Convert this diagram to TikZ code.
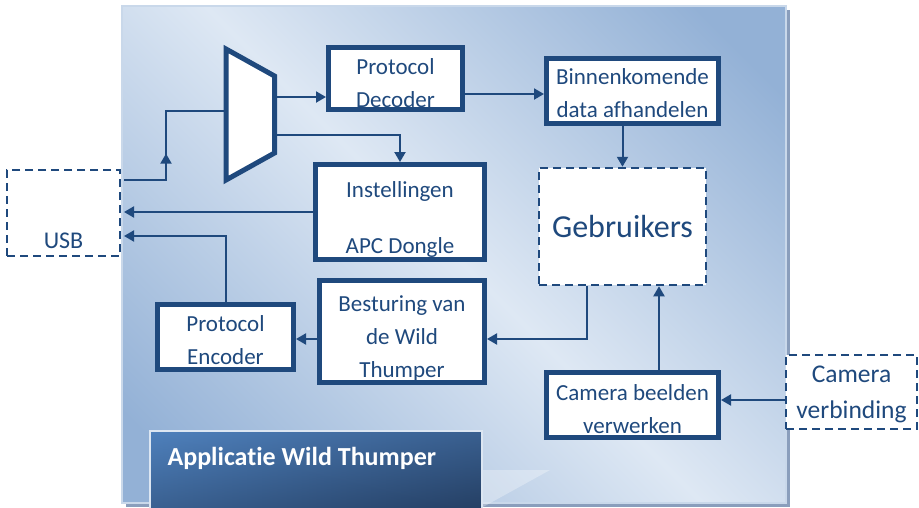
\documentclass[tikz,border=0pt]{standalone}
\usepackage{fontspec}
\setmainfont{Carlito}[Ligatures=NoCommon]
\usepackage{tikz}
\usetikzlibrary{arrows.meta}
\usetikzlibrary{decorations.markings}
\definecolor{navy}{RGB}{31,73,125}
\definecolor{panellight}{RGB}{222,232,244}
\definecolor{paneldark}{RGB}{147,177,214}
\definecolor{panelshadow}{RGB}{138,158,188}
\definecolor{titlelight}{RGB}{79,129,189}
\definecolor{titledark}{RGB}{36,62,98}
\pgfdeclareverticalshading{panelfade}{100bp}{color(0bp)=(paneldark); color(20bp)=(paneldark); color(50bp)=(panellight); color(80bp)=(paneldark); color(100bp)=(paneldark)}
\newcommand{\lift}[1]{\rule{0pt}{#1}}

\begin{document}
\begin{tikzpicture}[x=1pt, y=-1pt,
				block/.style={draw=navy, line width=5pt, fill=white, text=navy, inner sep=2pt, font=\fontsize{23}{33}\selectfont},
				dashblock/.style={draw=navy, line width=2.5pt, dash pattern=on 8pt off 5pt, fill=white, text=navy, inner sep=2pt},
				wire/.style={draw=navy, line width=2pt},
				flow/.style={wire, -{Triangle[length=10pt, width=11pt]}},
				every text node part/.style={align=center}]

				\useasboundingbox (0,0) rectangle (919,507);
				\fill[panelshadow] (126,10) rectangle (790,507);
				\shade[shading=panelfade, shading angle=-45, draw=paneldark!50!white, line width=1.5pt] (122,6) rectangle (786,503);

				\shade[left color=titlelight, right color=titledark] (150,431) rectangle (482,512);
				\shade[top color=titlelight, bottom color=titledark, opacity=0.5] (150,431) rectangle (482,512);
				\draw[white!80!titlelight, line width=1.5pt] (150,431) rectangle (482,512);
				\fill[white, opacity=0.3] (483,470) -- (550,470) -- (483,507) -- cycle;
				\node (title) at (164,458) [anchor=west, text=white, font=\bfseries\fontsize{26}{30}\selectfont] {Applicatie Wild Thumper};

				\coordinate (mux1) at (226,49);
				\coordinate (mux2) at (274.5,76);
				\coordinate (mux3) at (274.5,153);
				\coordinate (mux4) at (226,180);
				\draw[navy, fill=white, line width=5pt] (mux1) -- (mux2) -- (mux3) -- (mux4) -- cycle;
				\coordinate (muxin) at (226,111);
				\coordinate (muxup) at (274.5,97);
				\coordinate (muxdown) at (274.5,135);

				\node (dec) at (395.5,78.5) [block, minimum width=134pt, minimum height=62pt] {\lift{24.5pt}Protocol\\Decoder};
				\node (binnen) at (632.5,91) [block, minimum width=172pt, minimum height=65pt] {\lift{21pt}Binnenkomende\\data afhandelen};
				\node (instel) at (400,212) [block, minimum width=169pt, minimum height=83pt] {\lift{31pt}Instellingen\\[23pt]APC Dongle};
				\node (enc) at (225.5,337) [block, minimum width=136pt, minimum height=65pt] {\lift{23pt}Protocol\\Encoder};
				\node (best) at (402,331.5) [block, minimum width=165pt, minimum height=94pt] {\lift{29pt}Besturing van\\de Wild\\Thumper};
				\node (cam) at (632.5,405) [block, minimum width=172pt, minimum height=65pt] {\lift{23.5pt}Camera beelden\\verwerken};
				\node (gebr) at (622.5,226.5) [dashblock, minimum width=167pt, minimum height=117pt, font=\fontsize{32}{38}\selectfont] {Gebruikers};
				\node (usb) at (63.5,213) [dashblock, minimum width=113pt, minimum height=86pt, outer sep=4pt, text height=70pt, text depth=0pt, font=\fontsize{24}{30}\selectfont] {USB};
				\node (camv) at (851.5,392) [dashblock, minimum width=131pt, minimum height=74pt, font=\fontsize{25.5}{36}\selectfont] {\lift{22pt}Camera\\verbinding};

				\coordinate (gebrdown) at ([xshift=-35.5pt]gebr.south);
				\coordinate (camup) at ([xshift=26.5pt]cam.north);

				\draw[wire, postaction={decorate, decoration={markings, mark=at position 0.4 with {\arrow{Triangle[length=10pt, width=11pt]}}}}] (usb.east |- 0,180) -- ++(42,0) |- (muxin);
				\draw[flow] (muxup) -- (muxup -| dec.west);
				\draw[flow] (muxdown) -| (instel.north);
				\draw[flow] (dec.east |- 0,94) -- (binnen.west |- 0,94);
				\draw[flow] (binnen.south -| gebr.north) -- (gebr.north);
				\draw[flow] (instel.west) -- (instel.west -| usb.east);
				\draw[flow] (enc.north) |- (usb.east |- 0,236);
				\draw[flow] (best.west |- 0,339) -- (enc.east |- 0,339);
				\draw[flow] (gebrdown) |- (best.east |- 0,339);
				\draw[flow] (camup) -- (camup |- gebr.south);
				\draw[flow] (camv.west |- 0,400) -- (cam.east |- 0,400);

			\end{tikzpicture}
\end{document}
